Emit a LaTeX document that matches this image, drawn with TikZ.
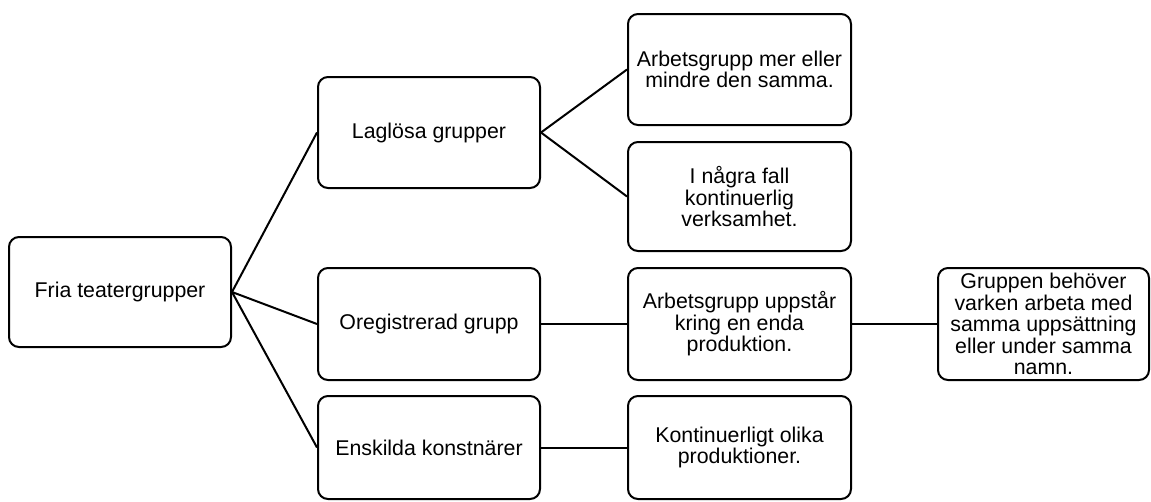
\documentclass[tikz,border=0pt]{standalone}
\usepackage{fontspec}
\setmainfont{Liberation Sans}
\begin{document}
\begin{tikzpicture}[x=0.75pt,y=-0.75pt,
  box/.style n args={2}{draw=black, line width=1.5pt, rounded corners=7.5pt, fill=white,
    minimum width=#1*0.75pt, minimum height=#2*0.75pt, inner sep=0pt, align=center,
    font=\fontsize{16pt}{16.2pt}\selectfont},
  link/.style={draw=black, line width=1.5pt}]
\useasboundingbox (0,0) rectangle (1151,501);
\node[box={222}{110}] (fria) at (120,292) {Fria teatergrupper};
\node[box={222}{111}] (lag) at (429,132.5) {Laglösa grupper};
\node[box={222}{112}] (oreg) at (429,324) {Oregistrerad grupp};
\node[box={222}{103}] (ensk) at (429,447.5) {Enskilda konstnärer};
\node[box={223}{111}] (arb1) at (739.5,69.5) {Arbetsgrupp mer eller\\mindre den samma.};
\node[box={223}{109}] (nagra) at (739.5,196.5) {I några fall\\kontinuerlig\\verksamhet.};
\node[box={223}{112}] (arb2) at (739.5,324) {Arbetsgrupp uppstår\\kring en enda\\produktion.};
\node[box={223}{103}] (kont) at (739.5,447.5) {Kontinuerligt olika\\produktioner.};
\node[box={211}{112}] (grupp) at (1043.5,324) {Gruppen behöver\\varken arbeta med\\samma uppsättning\\eller under samma\\namn.};
\draw[link] (fria.east) -- (lag.west);
\draw[link] (fria.east) -- (oreg.west);
\draw[link] (fria.east) -- (ensk.west);
\draw[link] (lag.east) -- (arb1.west);
\draw[link] (lag.east) -- (nagra.west);
\draw[link] (oreg.east) -- (arb2.west);
\draw[link] (ensk.east) -- (kont.west);
\draw[link] (arb2.east) -- (grupp.west);
\end{tikzpicture}
\end{document}
